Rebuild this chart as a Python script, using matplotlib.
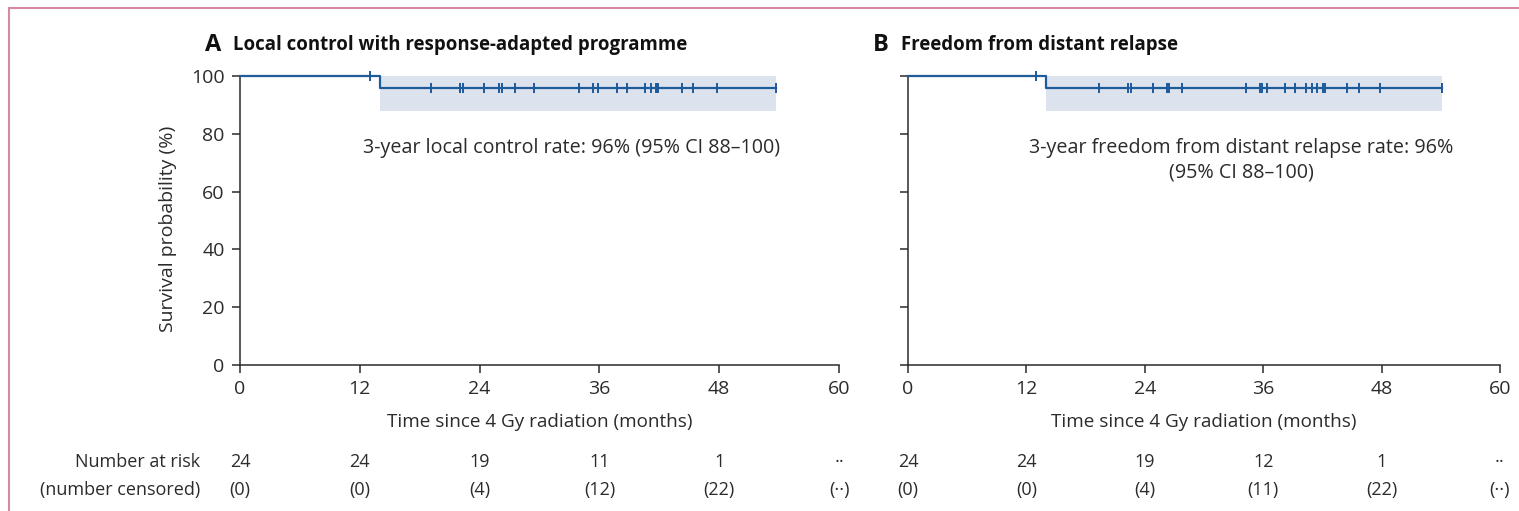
import numpy as np
import matplotlib
matplotlib.use("Agg")
from matplotlib import pyplot as plt
from matplotlib import transforms as mtransforms
from matplotlib.lines import Line2D

plt.rcParams['font.family'] = ['Open Sans', 'DejaVu Sans']

# Kaplan-Meier inputs (months since 4 Gy radiation)
event_time = 14.0
surv_before = 100.0
surv_after = 96.0
ci_low, ci_high = 88.0, 100.0

censor_a = [13.0, 19.1, 22.0, 22.3, 24.4, 25.9, 26.2, 27.5, 29.4, 34.0, 35.4,
            35.9, 37.8, 38.8, 40.6, 41.2, 41.7, 41.8, 41.9, 44.3, 45.4, 47.8, 53.7]
censor_b = [13.0, 19.4, 22.3, 22.6, 24.8, 26.2, 26.5, 27.8, 34.3, 35.7, 35.9,
            36.4, 38.2, 39.2, 40.3, 40.9, 41.5, 42.1, 42.3, 44.5, 45.7, 47.8, 54.1]

risk_times = [0, 12, 24, 36, 48, 60]
at_risk_a = ['24', '24', '19', '11', '1', '··']
censored_a = ['(0)', '(0)', '(4)', '(12)', '(22)', '(··)']
at_risk_b = ['24', '24', '19', '12', '1', '··']
censored_b = ['(0)', '(0)', '(4)', '(11)', '(22)', '(··)']

panel_letters = ['A', 'B']
panel_titles = ['Local control with response-adapted programme',
                'Freedom from distant relapse']
notes = ['3-year local control rate: 96% (95% CI 88–100)',
         '3-year freedom from distant relapse rate: 96%\n(95% CI 88–100)']

LINE = '#1d5b9b'
BAND = '#dde3ee'
INK = '#2b2b2b'
FS = 13.0

W, H = 1519, 511
fig = plt.figure(figsize=(W / 100, H / 100), dpi=100)
fig.patch.set_facecolor('white')

axes_px = [(240, 839), (908, 1500)]
top_px, bot_px = 76, 365


def km_panel(ax, censor, at_risk, censored, letter, title, note, note_xy, first):
    last = max(censor)
    ax.fill_between([event_time, last], ci_low, ci_high, color=BAND, lw=0, zorder=1)
    ax.step([0, event_time, last], [surv_before, surv_after, surv_after],
            where='post', color=LINE, lw=1.6, zorder=3, clip_on=False)
    ys = [surv_before if t < event_time else surv_after for t in censor]
    ax.plot(censor, ys, ls='none', marker='|', ms=7.5, mew=1.4, color=LINE,
            zorder=4, clip_on=False)

    ax.set_xlim(0, 60)
    ax.set_ylim(0, 100)
    ax.set_xticks(risk_times)
    ax.set_yticks(np.arange(0, 101, 20))
    for s in ['top', 'right']:
        ax.spines[s].set_visible(False)
    for s in ['left', 'bottom']:
        ax.spines[s].set_color(INK)
        ax.spines[s].set_linewidth(1.1)
    ax.tick_params(length=6, width=1.1, color=INK, labelsize=14, labelcolor=INK, pad=5)
    if not first:
        ax.set_yticklabels([])
    else:
        ax.set_ylabel('Survival probability (%)', fontsize=14, color=INK)
        ax.yaxis.set_label_coords(-0.105, 0.47)
    ax.set_xlabel('Time since 4 Gy radiation (months)', fontsize=13.6, color=INK)
    ax.xaxis.set_label_coords(0.5, -0.165)

    ax.text(note_xy[0], note_xy[1], note, ha='center', va='center', fontsize=14.2,
            color=INK, multialignment='center', linespacing=1.3)

    # number-at-risk table below the axis
    tr = mtransforms.blended_transform_factory(ax.transData, fig.transFigure)
    for t, n, c in zip(risk_times, at_risk, censored):
        ax.text(t, 1 - 462 / H, n, transform=tr, ha='center', va='center',
                fontsize=FS, color=INK, clip_on=False)
        ax.text(t, 1 - 490 / H, c, transform=tr, ha='center', va='center',
                fontsize=FS, color=INK, clip_on=False)

    x0 = ax.get_position().x0
    fig.text(x0 - 35 / W, 1 - 45 / H, letter, fontsize=17, fontweight='bold',
             color='#111111', ha='left', va='center')
    fig.text(x0 - 7 / W, 1 - 45 / H, title, fontsize=13.4, fontweight='bold',
             color='#111111', ha='left', va='center')


panels = [
    (censor_a, at_risk_a, censored_a, (33.2, 75.0)),
    (censor_b, at_risk_b, censored_b, (33.8, 71.0)),
]
for i, ((l, r), (cens, risk, cnum, nxy)) in enumerate(zip(axes_px, panels)):
    ax = fig.add_axes([l / W, 1 - bot_px / H, (r - l) / W, (bot_px - top_px) / H])
    ax.patch.set_alpha(0)
    km_panel(ax, cens, risk, cnum, panel_letters[i], panel_titles[i], notes[i], nxy, i == 0)

fig.text(200 / W, 1 - 462 / H, 'Number at risk', ha='right', va='center',
         fontsize=FS, color=INK)
fig.text(200 / W, 1 - 490 / H, '(number censored)', ha='right', va='center',
         fontsize=FS, color=INK)

# frame lines on the left and top edges
fig.add_artist(Line2D([9 / W, 9 / W], [0, 1 - 8 / H], transform=fig.transFigure,
                      color='#d68aa2', lw=1.5))
fig.add_artist(Line2D([9 / W, 1], [1 - 8 / H, 1 - 8 / H], transform=fig.transFigure,
                      color='#d68aa2', lw=1.5))

fig.savefig('out.png', dpi=100, facecolor='white')
